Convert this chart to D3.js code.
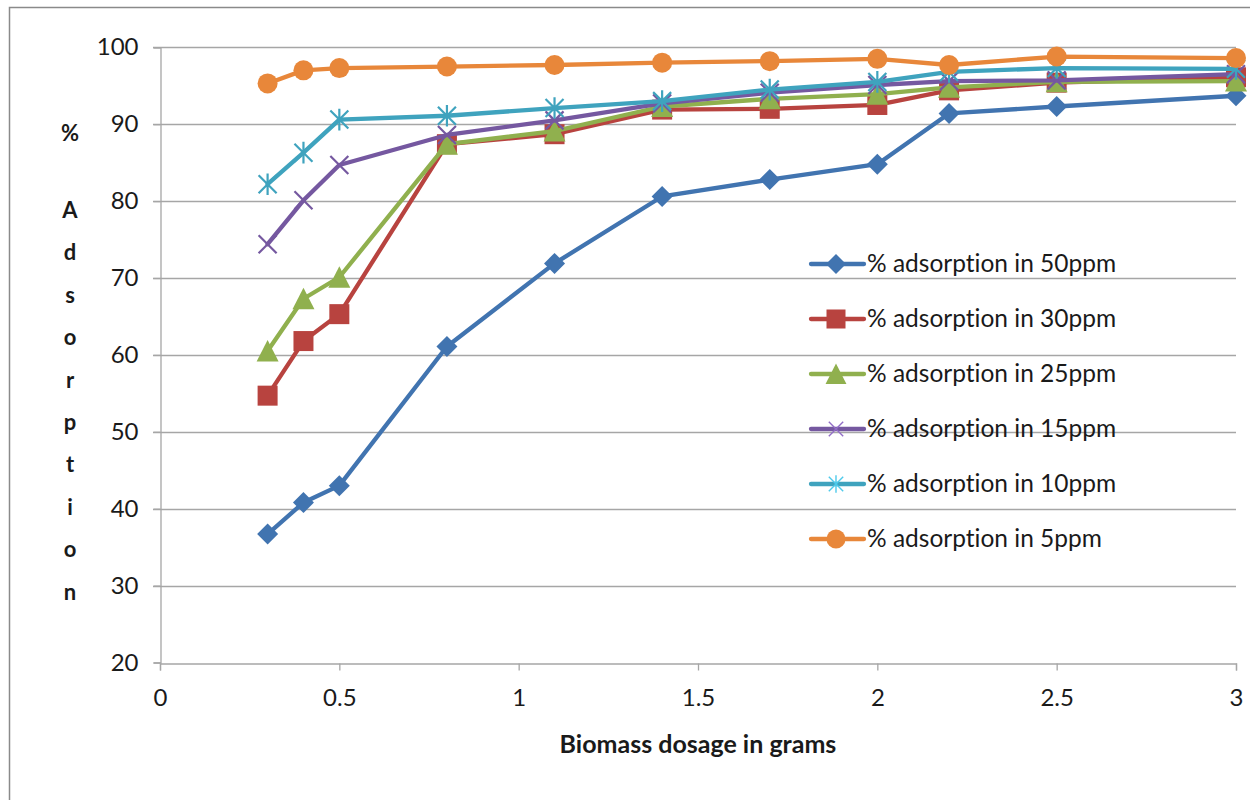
<!DOCTYPE html>
<html><head><meta charset="utf-8">
<script src="https://cdn.jsdelivr.net/npm/d3@7"></script>
<style>body{margin:0;background:#fff;} svg{display:block;} text{font-variant-ligatures:none;font-feature-settings:"liga" 0;}</style>
</head><body>
<svg id="chart" width="1250" height="800"></svg>
<script>
const dosage = [0.3,0.4,0.5,0.8,1.1,1.4,1.7,2.0,2.2,2.5,3.0];
const ppm50 = [36.7,40.8,43.0,61.1,71.9,80.6,82.8,84.8,91.4,92.3,93.7];
const ppm30 = [54.7,61.8,65.3,87.4,88.7,91.9,92.0,92.5,94.4,95.4,96.1];
const ppm25 = [60.5,67.3,70.1,87.4,89.1,92.3,93.3,93.9,94.8,95.5,95.6];
const ppm15 = [74.4,80.1,84.7,88.6,90.5,92.7,94.1,95.1,95.6,95.7,96.5];
const ppm10 = [82.2,86.3,90.6,91.1,92.1,93.0,94.5,95.5,96.8,97.3,97.2];
const ppm5  = [95.3,97.0,97.3,97.5,97.7,98.0,98.2,98.5,97.7,98.8,98.6];
const seriesNames = ["% adsorption in 50ppm","% adsorption in 30ppm","% adsorption in 25ppm","% adsorption in 15ppm","% adsorption in 10ppm","% adsorption in 5ppm"];
const seriesColors = ["#4174B0","#B8433F","#90B04E","#7558A0","#3FA3BE","#E8873A"];
const seriesMarkers = ["diamond","square","triangle","x","star","circle"];
const xTicks = [0,0.5,1,1.5,2,2.5,3];
const yTicks = [20,30,40,50,60,70,80,90,100];
const xTitle = "Biomass dosage in grams";
const yTitleChars = ["%","A","d","s","o","r","p","t","i","o","n"];

const seriesValues = [ppm50,ppm30,ppm25,ppm15,ppm10,ppm5];
const series = seriesNames.map((n,i)=>({name:n,color:seriesColors[i],marker:seriesMarkers[i],
  points:dosage.map((d,j)=>({x:d,y:seriesValues[i][j]}))}));

const svg = d3.select("#chart");
const FONT = "Lato, 'Open Sans', sans-serif";
const x = d3.scaleLinear().domain([0,3]).range([160,1236]);
const y = d3.scaleLinear().domain([20,100]).range([662.5,47.3]);

// outer frame (extends beyond the visible area on right/bottom)
svg.append("rect").attr("x",9.5).attr("y",7.5).attr("width",1400).attr("height",900)
  .attr("fill","none").attr("stroke","#8a8a8a").attr("stroke-width",1.5);

// gridlines
svg.append("g").selectAll("line").data(yTicks.filter(t=>t>20)).join("line")
  .attr("x1",153).attr("x2",x(3)).attr("y1",d=>Math.round(y(d))+0.5).attr("y2",d=>Math.round(y(d))+0.5)
  .attr("stroke","#a6a6a6").attr("stroke-width",1.3);

// y axis
const yAxis = d3.axisLeft(y).tickValues(yTicks).tickSize(7).tickPadding(15);
const gy = svg.append("g").attr("transform","translate(160.5,0)").call(yAxis);
gy.select(".domain").attr("stroke","#a6a6a6").attr("stroke-width",1.3);
gy.selectAll(".tick line").attr("stroke","#a6a6a6").attr("stroke-width",1.3);
gy.selectAll(".tick text").attr("font-family",FONT).attr("font-size",24).attr("fill","#1a1a1a");

// x axis
const xAxis = d3.axisBottom(x).tickValues(xTicks).tickFormat(d3.format("")).tickSize(7).tickPadding(18);
const gx = svg.append("g").attr("transform",`translate(0,${Math.round(y(20))+0.5})`).call(xAxis);
gx.select(".domain").attr("stroke","#a6a6a6").attr("stroke-width",1.3);
gx.selectAll(".tick line").attr("stroke","#a6a6a6").attr("stroke-width",1.3);
gx.selectAll(".tick text").attr("font-family",FONT).attr("font-size",24).attr("fill","#1a1a1a");

// titles
svg.append("text").attr("x",698).attr("y",753).attr("text-anchor","middle")
  .attr("font-family",FONT).attr("font-weight","bold").attr("font-size",25).attr("fill","#1a1a1a").text(xTitle);
const yt = svg.append("text").attr("font-family",FONT).attr("font-weight","bold").attr("font-size",22)
  .attr("fill","#1a1a1a").attr("text-anchor","middle");
yTitleChars.forEach((c,i)=>{
  yt.append("tspan").attr("x",70).attr("y", i===0 ? 141 : 218 + (i-1)*42.4).text(c);
});

// marker drawing
function drawMarker(g, type, color, cx, cy, scale){
  const s = scale||1;
  if(type==="diamond"){
    const r=10.5*s;
    g.append("path").attr("d",`M${cx},${cy-r}L${cx+r},${cy}L${cx},${cy+r}L${cx-r},${cy}Z`).attr("fill",color);
  } else if(type==="square"){
    const h=10*s;
    g.append("rect").attr("x",cx-h).attr("y",cy-h).attr("width",2*h).attr("height",2*h).attr("fill",color);
  } else if(type==="triangle"){
    const h=11*s;
    g.append("path").attr("d",`M${cx},${cy-h}L${cx+h},${cy+h*0.95}L${cx-h},${cy+h*0.95}Z`).attr("fill",color);
  } else if(type==="circle"){
    g.append("circle").attr("cx",cx).attr("cy",cy).attr("r",10*s).attr("fill",color);
  } else if(type==="x"){
    const h=9*s;
    g.append("path").attr("d",`M${cx-h},${cy-h}L${cx+h},${cy+h}M${cx-h},${cy+h}L${cx+h},${cy-h}`)
      .attr("stroke",color).attr("stroke-width",s<1?1.4:2.2).attr("fill","none");
  } else if(type==="star"){
    const h=9*s;
    g.append("path").attr("d",`M${cx-h},${cy-h}L${cx+h},${cy+h}M${cx-h},${cy+h}L${cx+h},${cy-h}M${cx},${cy-h*1.2}L${cx},${cy+h*1.2}`)
      .attr("stroke",color).attr("stroke-width",s<1?1.4:2.2).attr("fill","none");
  }
}

// series
const line = d3.line().x(d=>x(d.x)).y(d=>y(d.y));
series.forEach(s=>{
  const g = svg.append("g");
  g.append("path").datum(s.points).attr("d",line).attr("fill","none")
    .attr("stroke",s.color).attr("stroke-width",4.3).attr("stroke-linejoin","round").attr("stroke-linecap","round");
  s.points.forEach(p=>drawMarker(g,s.marker,s.color,x(p.x),y(p.y),1));
});

// legend
const legendY0 = 264, legendStep = 55;
series.forEach((s,i)=>{
  const ly = legendY0 + i*legendStep;
  const g = svg.append("g");
  g.append("line").attr("x1",811).attr("x2",864).attr("y1",ly).attr("y2",ly)
    .attr("stroke",s.color).attr("stroke-width",4.3).attr("stroke-linecap","round");
  const mc = (s.marker==="x"||s.marker==="star") ? d3.color(s.color).brighter(0.6).formatHex() : s.color;
  drawMarker(g,s.marker,mc,836,ly,(s.marker==="x"||s.marker==="star")?0.8:0.95);
  g.append("text").attr("x",867).attr("y",ly+8).attr("font-family",FONT).attr("font-size",24.5)
    .attr("fill","#1a1a1a").text(s.name);
});
</script>
</body></html>
